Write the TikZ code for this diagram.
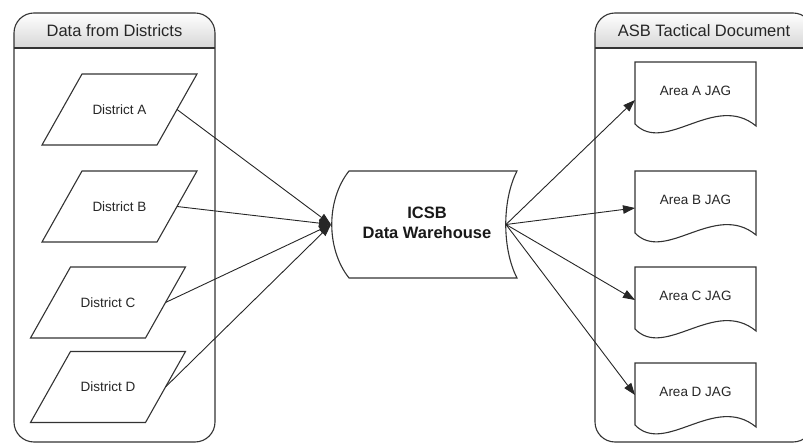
\documentclass[tikz,border=0pt]{standalone}
\usepackage{fontspec}
\setmainfont{Liberation Sans}
\usetikzlibrary{arrows.meta}
\begin{document}
\begin{tikzpicture}[x=1pt,y=-1pt,
  shapeline/.style={draw=black!80, line width=1.1pt},
  district/.style={rectangle, minimum width=115pt, minimum height=71pt,
    inner sep=0pt, outer sep=0pt, text=black!85,
    font=\fontsize{13.5}{16}\selectfont},
  docbox/.style={rectangle, minimum width=121pt, minimum height=64pt, inner sep=0pt,
    outer sep=0pt, text=black!85, font=\fontsize{13.5}{16}\selectfont},
  whbox/.style={rectangle, minimum width=175pt, minimum height=107pt, inner sep=0pt, outer sep=0pt},
  whtext/.style={align=center, text=black!90, font=\bfseries\fontsize{16.5}{20}\selectfont},
  header/.style={text=black!85, font=\fontsize{16.5}{20}\selectfont},
  flow/.style={draw=black!85, line width=0.9pt, -{Triangle[length=12pt,width=8.5pt]}}
]
\useasboundingbox (0,0) rectangle (803,443);

% containers
\begin{scope}
  \clip[rounded corners=20pt] (14,13) rectangle (215,442);
  \shade[top color=white, bottom color=black!16] (14,13) rectangle (215,48);
\end{scope}
\begin{scope}
  \clip[rounded corners=20pt] (595,13) rectangle (813,442);
  \shade[top color=white, bottom color=black!16] (595,13) rectangle (813,48);
\end{scope}
\draw[shapeline, rounded corners=20pt] (14,13) rectangle (215,442);
\draw[shapeline] (14,48) -- (215,48);
\draw[shapeline, rounded corners=20pt] (595,13) rectangle (813,442);
\draw[shapeline] (595,48) -- (813,48);
\node[header] (hL) at (114.5,31) {Data from Districts};
\node[header] (hR) at (704,31) {ASB Tactical Document};

% districts (parallelograms)
\newcommand\ParaBody[1]{%
  \draw[shapeline] ([xshift=20pt]#1.north west) -- ([xshift=20pt]#1.north east)
    -- ([xshift=-20pt]#1.south east) -- ([xshift=-20pt]#1.south west) -- cycle;}
\node[district] (dA) at (119.5,109.5) {District A};
\node[district] (dB) at (119.5,206.5) {District B};
\node[district] (dC) at (108,302.5) {District C};
\node[district] (dD) at (108,387) {District D};
\ParaBody{dA}
\ParaBody{dB}
\ParaBody{dC}
\ParaBody{dD}

% warehouse
\node[whbox] (wh) at (418.5,224.5) {};
\draw[shapeline] ([xshift=18pt]wh.north west) -- ([xshift=11pt]wh.north east)
  .. controls ([shift={(-4pt,-29pt)}]wh.north east) and ([shift={(-4pt,29pt)}]wh.south east)
  .. ([xshift=11pt]wh.south east) -- ([xshift=18pt]wh.south west)
  .. controls ([shift={(-5pt,29pt)}]wh.south west) and ([shift={(-5pt,-29pt)}]wh.north west)
  .. cycle;
\node[whtext] (whlabel) at (427,223) {ICSB\\Data Warehouse};

% documents
\newcommand\DocBody[1]{%
  \draw[shapeline] (#1.north west) -- (#1.north east) -- ([yshift=-64pt]#1.north east)
    .. controls +(-41,-34) and +(30,31) .. ([yshift=-62pt]#1.north west) -- cycle;}
\node[docbox] (aA) at (695.5,94) {\raisebox{6pt}{Area A JAG}};
\node[docbox] (aB) at (695.5,203) {\raisebox{6pt}{Area B JAG}};
\node[docbox] (aC) at (695.5,299) {\raisebox{6pt}{Area C JAG}};
\node[docbox] (aD) at (695.5,395) {\raisebox{6pt}{Area D JAG}};
\DocBody{aA}
\DocBody{aB}
\DocBody{aC}
\DocBody{aD}

% connectors
\draw[flow] (dA.east) -- (wh.west);
\draw[flow] (dB.east) -- (wh.west);
\draw[flow] (dC.east) -- (wh.west);
\draw[flow] (dD.east) -- (wh.west);
\draw[flow] (wh.east) -- ([yshift=-6pt]aA.west);
\draw[flow] (wh.east) -- ([yshift=-5pt]aB.west);
\draw[flow] (wh.east) -- ([yshift=-1pt]aC.west);
\draw[flow] (wh.east) -- (aD.west);
\end{tikzpicture}
\end{document}
